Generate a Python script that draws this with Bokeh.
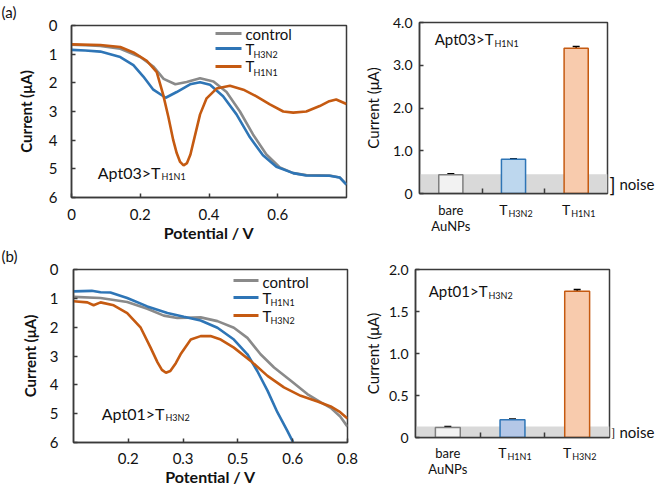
from bokeh.plotting import figure
from bokeh.models import (Range1d, FixedTicker, Label, BoxAnnotation, Whisker,
                          TeeHead, ColumnDataSource, LinearAxis)
from bokeh.layouts import row, column
from bokeh.embed import file_html
from bokeh.resources import INLINE
from bokeh.core.properties import value

# ---------------- data ----------------
# (a) Apt03 DPV curves (x: potential / V, y: current / uA)
a_ctrl_x = [0, 0.04, 0.084, 0.142, 0.2, 0.239, 0.268, 0.302, 0.335, 0.374, 0.413, 0.451,
            0.49, 0.528, 0.567, 0.606, 0.645, 0.683, 0.751, 0.78, 0.8]
a_ctrl_y = [0.67, 0.69, 0.71, 0.81, 1.10, 1.44, 1.86, 2.05, 1.97, 1.84, 1.95, 2.32,
            3.0, 3.8, 4.5, 4.95, 5.15, 5.22, 5.23, 5.3, 5.55]
a_h3n2_x = [0, 0.04, 0.084, 0.142, 0.18, 0.209, 0.238, 0.274, 0.306, 0.345, 0.374, 0.403,
            0.441, 0.48, 0.519, 0.557, 0.596, 0.645, 0.683, 0.75, 0.78, 0.8]
a_h3n2_y = [0.85, 0.87, 0.91, 1.1, 1.38, 1.78, 2.24, 2.52, 2.32, 2.05, 1.98, 2.07,
            2.47, 3.1, 3.9, 4.53, 4.93, 5.15, 5.23, 5.24, 5.3, 5.55]
a_h1n1_x = [0, 0.084, 0.142, 0.18, 0.219, 0.248, 0.267, 0.282, 0.296, 0.306, 0.316,
            0.326, 0.336, 0.346, 0.356, 0.374, 0.393, 0.422, 0.461, 0.5, 0.538, 0.577,
            0.616, 0.645, 0.683, 0.722, 0.75, 0.77, 0.8]
a_h1n1_y = [0.66, 0.68, 0.75, 0.94, 1.23, 1.63, 2.43, 3.2, 4.0, 4.45, 4.76,
            4.88, 4.8, 4.5, 4.0, 3.1, 2.54, 2.2, 2.1, 2.24, 2.47, 2.75,
            3.0, 3.04, 3.0, 2.81, 2.64, 2.58, 2.74]
a_xticks = [0, 0.2, 0.4, 0.6]
a_xtick_labels = ["0", "0.2", "0.4", "0.6"]
a_yticks = [0, 1, 2, 3, 4, 5, 6]

# (b) Apt01 DPV curves
b_ctrl_x = [0.05, 0.124, 0.197, 0.252, 0.297, 0.334, 0.398, 0.444, 0.489, 0.526, 0.562,
            0.599, 0.645, 0.69, 0.727, 0.754, 0.78, 0.8]
b_ctrl_y = [0.95, 0.99, 1.13, 1.36, 1.6, 1.68, 1.66, 1.79, 2.02, 2.37, 2.94,
            3.4, 3.86, 4.32, 4.61, 4.8, 5.1, 5.45]
b_h1n1_x = [0.05, 0.1, 0.124, 0.151, 0.197, 0.252, 0.307, 0.352, 0.398, 0.444, 0.489,
            0.526, 0.553, 0.581, 0.608, 0.635, 0.651]
b_h1n1_y = [0.76, 0.74, 0.79, 0.80, 0.99, 1.28, 1.51, 1.64, 1.77, 2.02, 2.43,
            2.94, 3.52, 4.2, 4.95, 5.59, 5.99]
b_h3n2_x = [0.05, 0.088, 0.105, 0.124, 0.16, 0.197, 0.234, 0.261, 0.28, 0.292, 0.303,
            0.315, 0.33, 0.343, 0.371, 0.398, 0.425, 0.453, 0.489, 0.535, 0.581, 0.626,
            0.672, 0.718, 0.754, 0.78, 0.8]
b_h3n2_y = [1.1, 1.14, 1.24, 1.14, 1.24, 1.51, 2.02, 2.71, 3.22, 3.48, 3.58,
            3.52, 3.25, 2.94, 2.43, 2.31, 2.31, 2.43, 2.71, 3.17, 3.69, 4.09,
            4.38, 4.58, 4.75, 4.95, 5.17]
b_xticks = [0.2, 0.35, 0.5, 0.65, 0.8]
b_xtick_labels = ["0.2", "0.3", "0.5", "0.6", "0.8"]
b_yticks = [0, 1, 2, 3, 4, 5, 6]

# bar charts
a_bar_main = ["bare", "T", "T"]
a_bar_sub = ["AuNPs", "H3N2", "H1N1"]
a_bar_vals = [0.44, 0.80, 3.40]
a_bar_err = [0.02, 0.01, 0.04]
a_noise = 0.45
a_bar_yticks = [0, 1, 2, 3, 4]
a_bar_ytick_labels = ["0", "1.0", "2.0", "3.0", "4.0"]

b_bar_main = ["bare", "T", "T"]
b_bar_sub = ["AuNPs", "H1N1", "H3N2"]
b_bar_vals = [0.12, 0.21, 1.74]
b_bar_err = [0.01, 0.01, 0.02]
b_noise = 0.13
b_bar_yticks = [0, 0.5, 1.0, 1.5, 2.0]
b_bar_ytick_labels = ["0", "0.5", "1.0", "1.5", "2.0"]

a_bar_fill = ["#f2f2f2", "#bdd7ee", "#f8cbad"]
b_bar_fill = ["#f2f2f2", "#b4c7e7", "#f8cbad"]
bar_line = ["#7f7f7f", "#2e75b6", "#c55a11"]

# ---------------- style ----------------
FONT = "Lato"
TXT = "#111111"
AX = "#3a3a3a"
GREY = "#8a8a8a"
BLUE = "#2e75b6"
ORANGE = "#c55a11"

# page geometry: (page_left, page_top, width, height, frameL, frameR, frameT, frameB)
G1 = (0, 0, 360, 244, 71, 346, 23, 198)
G2 = (360, 0, 297, 200, 419, 613, 22, 193)
G3 = (0, 244, 360, 244, 73, 347, 268, 442)
G4 = (360, 244, 297, 200, 415, 612, 269, 437)


def make_fig(g, xr, yr):
    pl, pt, w, h, L, R, T, B = g
    p = figure(width=w, height=h, x_range=xr, y_range=yr,
               output_backend="svg", toolbar_location=None,
               min_border_left=L - pl, min_border_right=pl + w - R,
               min_border_top=T - pt, min_border_bottom=pt + h - B)
    p.xgrid.visible = False
    p.ygrid.visible = False
    p.outline_line_color = AX
    p.outline_line_width = 1.5
    p.background_fill_color = "white"
    p.border_fill_color = "white"
    for ax in (p.xaxis[0], p.yaxis[0]):
        ax.axis_line_color = AX
        ax.axis_line_width = 1.5
        ax.major_tick_in = 4
        ax.major_tick_out = 0
        ax.major_tick_line_color = AX
        ax.major_tick_line_width = 1.5
        ax.minor_tick_in = 0
        ax.minor_tick_out = 0
        ax.minor_tick_line_color = AX
        ax.minor_tick_line_width = 1.5
        ax.major_label_text_font = FONT
        ax.major_label_text_color = TXT
        ax.major_label_text_font_size = "15px"
        ax.axis_label_text_font = FONT
        ax.axis_label_text_color = TXT
        ax.axis_label_text_font_size = "15px"
    return p


def lab(p, g, px, py, text, size, align="left"):
    L, B = g[4], g[7]
    p.add_layout(Label(x=px - L, y=B - py, x_units="screen", y_units="screen",
                       text=text, text_font=FONT, text_font_size=f"{size}px",
                       text_color=TXT, text_align=align, text_baseline="middle"))


def sub_text(p, g, px_main_end, py_main, main, sub, size, sub_size, dy):
    lab(p, g, px_main_end, py_main, main, size, align="right")
    lab(p, g, px_main_end + 1, py_main + dy, sub, sub_size, align="left")


def legend_line(p, g, x0, x1, py, color):
    L, B = g[4], g[7]
    p.add_layout(BoxAnnotation(left=x0 - L, right=x1 - L, top=B - py + 1.5,
                               bottom=B - py - 1.5, left_units="screen",
                               right_units="screen", top_units="screen",
                               bottom_units="screen", fill_color=color,
                               fill_alpha=1, line_alpha=0))


def dpv_fig(g, xr, xticks, xlabels, yticks, curves, legend, annot, panel,
            ystand, ylab_stand, xstand, title_stand):
    p = make_fig(g, xr, Range1d(6, 0))
    p.title.text = panel
    p.title.align = "left"
    p.title.vertical_align = "top"
    p.title.offset = -(g[4] - g[0]) + 1
    p.title.text_font = FONT
    p.title.text_font_size = "15px"
    p.title.text_font_style = "normal"
    p.title.text_color = TXT
    p.title.standoff = title_stand
    xa = p.xaxis[0]
    xa.ticker = FixedTicker(ticks=xticks)
    xa.major_label_overrides = dict(zip(xticks, xlabels))
    xa.major_label_standoff = xstand
    xa.axis_label = "Potential / V"
    xa.axis_label_text_font_style = "bold"
    xa.axis_label_text_font_size = "16px"
    xa.axis_label_standoff = 0
    ya = p.yaxis[0]
    ya.ticker = FixedTicker(ticks=yticks)
    ya.major_label_standoff = ystand
    ya.axis_label = "Current (μA)"
    ya.axis_label_text_font_style = "bold"
    ya.axis_label_standoff = ylab_stand
    for xs, ys, c in curves:
        p.line(xs, ys, line_color=c, line_width=2.6)
    for (x0, x1, ly, c, main, sub, ty, sy, sx) in legend:
        legend_line(p, g, x0, x1, ly, c)
        lab(p, g, x1 + 4, ty, main, 15)
        if sub:
            lab(p, g, sx, sy, sub, 9)
    main, sub, xe, ym = annot
    sub_text(p, g, xe, ym, main, sub, 16, 9, dy=4)
    return p


def bar_fig(g, vals, errs, noise, yticks, ylabels, fills, lines, annot,
            ylab_stand, bracket_size):
    p = make_fig(g, Range1d(0, 3), Range1d(0, yticks[-1]))
    xs = [i + 0.5 for i in range(len(vals))]
    p.add_layout(BoxAnnotation(bottom=0, top=noise, fill_color="#d9d9d9",
                               fill_alpha=1, line_alpha=0, level="underlay"))
    src = ColumnDataSource(dict(x=xs, top=vals, fill=fills, line=lines,
                                upper=[v + e for v, e in zip(vals, errs)],
                                lower=[v - e for v, e in zip(vals, errs)]))
    p.vbar(x="x", top="top", bottom=0, width=0.385, source=src,
           fill_color="fill", line_color="line", line_width=1.5)
    p.add_layout(Whisker(source=src, base="x", upper="upper", lower="lower",
                         line_color="black", line_width=1.6,
                         upper_head=TeeHead(size=7, line_color="black", line_width=1.6),
                         lower_head=TeeHead(size=7, line_color="black", line_width=1.6)))
    xa = p.xaxis[0]
    xa.ticker = FixedTicker(ticks=[], minor_ticks=[1, 2])
    xa.minor_tick_in = 5
    xa.major_label_standoff = 0
    ya = p.yaxis[0]
    ya.ticker = FixedTicker(ticks=yticks)
    ya.major_label_overrides = dict(zip(yticks, ylabels))
    ya.major_label_standoff = 7
    ya.major_label_text_font_size = "14px"
    ya.axis_label = "Current (μA)"
    ya.axis_label_text_font_style = "normal"
    ya.axis_label_text_font_size = "15px"
    ya.axis_label_standoff = ylab_stand
    # "] noise" marker on the right side, at the middle of the noise band
    mid = noise / 2
    for text, size, stand in (("]", bracket_size, 2), ("noise", 15, 1)):
        ax = LinearAxis(ticker=FixedTicker(ticks=[mid]),
                        major_label_overrides={mid: text},
                        major_label_text_font=FONT,
                        major_label_text_font_size=f"{size}px",
                        major_label_text_color=TXT,
                        major_label_standoff=stand,
                        major_tick_in=0, major_tick_out=0,
                        minor_tick_in=0, minor_tick_out=0,
                        axis_line_alpha=0)
        p.add_layout(ax, "right")
    mtext, stext, xe, ym = annot
    sub_text(p, g, xe, ym, mtext, stext, 15, 9, dy=5)
    return p


def cat_fig(g, xr, main, sub, top, height, y_main, y_sub, y_bare2):
    pl, pt, w, h, L, R, T, B = g
    p = figure(width=w, height=height, x_range=xr,
               y_range=Range1d(top + height, top),
               x_axis_location=None, y_axis_location=None,
               output_backend="svg", toolbar_location=None,
               min_border_left=L - pl, min_border_right=pl + w - R,
               min_border_top=0, min_border_bottom=0)
    p.xgrid.visible = False
    p.ygrid.visible = False
    p.outline_line_alpha = 0
    p.background_fill_color = "white"
    p.border_fill_color = "white"
    xs = [i + 0.5 for i in range(len(main))]
    bx = [x for x, m in zip(xs, main) if m == "bare"]
    bm = [m for m in main if m == "bare"]
    bs = [s for m, s in zip(main, sub) if m == "bare"]
    tx = [x for x, m in zip(xs, main) if m != "bare"]
    tm = [m for m in main if m != "bare"]
    ts = [s for m, s in zip(main, sub) if m != "bare"]
    common = dict(text_font=value(FONT), text_color=TXT, text_baseline="middle")
    p.text(x=bx, y=[y_main] * len(bx), text=bm, text_align="center",
           text_font_size="13px", **common)
    p.text(x=bx, y=[y_bare2] * len(bx), text=bs, text_align="center",
           text_font_size="13px", **common)
    p.text(x=tx, y=[y_main] * len(tx), text=tm, text_align="right",
           x_offset=-6, text_font_size="14px", **common)
    p.text(x=tx, y=[y_sub] * len(tx), text=ts, text_align="left",
           x_offset=-5, text_font_size="9px", **common)
    return p


p1 = dpv_fig(G1, Range1d(0, 0.8), a_xticks, a_xtick_labels, a_yticks,
             [(a_ctrl_x, a_ctrl_y, GREY), (a_h3n2_x, a_h3n2_y, BLUE),
              (a_h1n1_x, a_h1n1_y, ORANGE)],
             [(215, 241, 34, GREY, "control", "", 34, 0, 0),
              (215, 241, 49, BLUE, "T", "H3N2", 49, 55, 253),
              (215, 241, 67, ORANGE, "T", "H1N1", 66, 73, 253)],
             ("Apt03>T", "H1N1", 160, 173), "(a)", 14, 11, 11, 5)
p2 = bar_fig(G2, a_bar_vals, a_bar_err, a_noise, a_bar_yticks, a_bar_ytick_labels,
             a_bar_fill, bar_line, ("Apt03>T", "H1N1", 493, 38), 8, 20)
p2c = cat_fig(G2, p2.x_range, a_bar_main, a_bar_sub, 200, 44, 209, 213, 225)
p3 = dpv_fig(G3, Range1d(0.05, 0.8), b_xticks, b_xtick_labels, b_yticks,
             [(b_ctrl_x, b_ctrl_y, GREY), (b_h1n1_x, b_h1n1_y, BLUE),
              (b_h3n2_x, b_h3n2_y, ORANGE)],
             [(233, 258, 280, GREY, "control", "", 281, 0, 0),
              (233, 258, 297, BLUE, "T", "H1N1", 297, 302, 270),
              (233, 258, 315, ORANGE, "T", "H3N2", 315, 320, 270)],
             ("Apt01>T", "H3N2", 164, 413), "(b)", 15, 8, 10, 5)
p4 = bar_fig(G4, b_bar_vals, b_bar_err, b_noise, b_bar_yticks, b_bar_ytick_labels,
             b_bar_fill, bar_line, ("Apt01>T", "H3N2", 487, 290), 4, 12)
p4c = cat_fig(G4, p4.x_range, b_bar_main, b_bar_sub, 444, 44, 452, 456, 468)

layout = column(row(p1, column(p2, p2c)), row(p3, column(p4, p4c)))
open("out.html", "w").write(file_html(layout, INLINE))
